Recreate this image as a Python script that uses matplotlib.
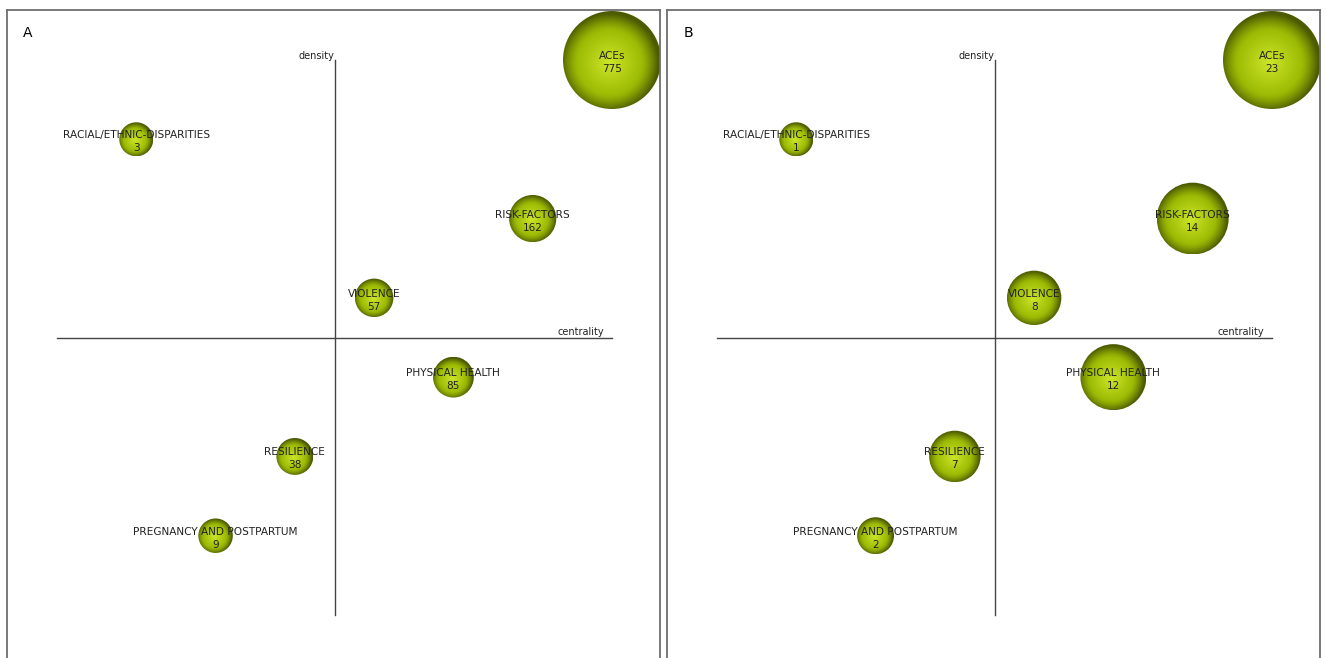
import numpy as np
import matplotlib.pyplot as plt
from matplotlib.patches import Circle

# === DATA ===
themes = ["ACEs", "RACIAL/ETHNIC-DISPARITIES", "RISK-FACTORS", "VIOLENCE",
          "PHYSICAL HEALTH", "RESILIENCE", "PREGNANCY AND POSTPARTUM"]
# centrality / density ranges (0..1), same layout in both panels
centrality = [1.0, 1 / 7, 6 / 7, 4 / 7, 5 / 7, 3 / 7, 2 / 7]
density = [1.0, 6 / 7, 5 / 7, 4 / 7, 3 / 7, 2 / 7, 1 / 7]
docs_a = [775, 3, 162, 57, 85, 38, 9]
docs_b = [23, 1, 14, 8, 12, 7, 2]

W, H = 1326, 658
PX_PER_UNIT = 555.0
R_MIN, R_MAX = 17.0, 49.0  # bubble radius in pixels


def gradient_img():
    n = 200
    yy, xx = np.mgrid[-1:1:n * 1j, -1:1:n * 1j]
    d = np.clip(np.sqrt((xx + 0.05) ** 2 + (yy - 0.05) ** 2), 0, 1)
    c0 = np.array([0.80, 0.90, 0.16])   # center
    c1 = np.array([0.62, 0.74, 0.02])
    c2 = np.array([0.30, 0.36, 0.0])    # edge
    t = d[..., None]
    img = np.where(t < 0.65, c0 + (c1 - c0) * (t / 0.65),
                   c1 + (c2 - c1) * ((t - 0.65) / 0.35) ** 1.3)
    return img


GRAD = gradient_img()


def draw_panel(rect_px, label, values):
    x0, y0, x1, y1 = rect_px
    ax = fig.add_axes([x0 / W, 1 - y1 / H, (x1 - x0) / W, (y1 - y0) / H])
    # data 0 at px offset 50 from left edge, 1 at top 50 px below top edge
    xl = -50 / PX_PER_UNIT
    yt = 1 + 50 / PX_PER_UNIT
    ax.set_xticks([])
    ax.set_yticks([])
    for s in ["top", "left", "right"]:
        ax.spines[s].set_color("#6e6e6e")
        ax.spines[s].set_linewidth(1.3)
    ax.spines["bottom"].set_visible(False)

    ax.plot([0, 1], [0.5, 0.5], color="#444444", lw=1.0, zorder=1)
    ax.plot([0.5, 0.5], [0, 1], color="#444444", lw=1.0, zorder=1)
    ax.text(0.5, 0.999, "density", ha="right", va="bottom", fontsize=7, color="#222222")
    ax.text(0.985, 0.501, "centrality", ha="right", va="bottom", fontsize=7, color="#222222")
    ax.text(0.025, 0.965, label, transform=ax.transAxes, ha="left", va="center",
            fontsize=10, color="black")

    vmin, vmax = min(values), max(values)
    for name, cx, cy, v in zip(themes, centrality, density, values):
        r = (R_MIN + (v - vmin) / (vmax - vmin) * (R_MAX - R_MIN)) / PX_PER_UNIT
        circ = Circle((cx, cy), r, facecolor="none", edgecolor="none")
        ax.add_patch(circ)
        im = ax.imshow(GRAD, extent=(cx - r, cx + r, cy - r, cy + r), origin="upper",
                       zorder=2, interpolation="bilinear", aspect="auto")
        im.set_clip_path(circ)
        ax.text(cx, cy + 4 / PX_PER_UNIT, name, ha="center", va="center",
                fontsize=7.6, color="#222222", zorder=3)
        ax.text(cx, cy - 9 / PX_PER_UNIT, str(v), ha="center", va="center",
                fontsize=7.6, color="#222222", zorder=3)
    ax.set_xlim(xl, xl + (x1 - x0) / PX_PER_UNIT)
    ax.set_ylim(yt - (y1 - y0) / PX_PER_UNIT, yt)


fig = plt.figure(figsize=(W / 100, H / 100), dpi=100)
draw_panel((7, 10, 660, 660), "A", docs_a)
draw_panel((667, 10, 1320, 660), "B", docs_b)
fig.savefig("out.png", dpi=100)
